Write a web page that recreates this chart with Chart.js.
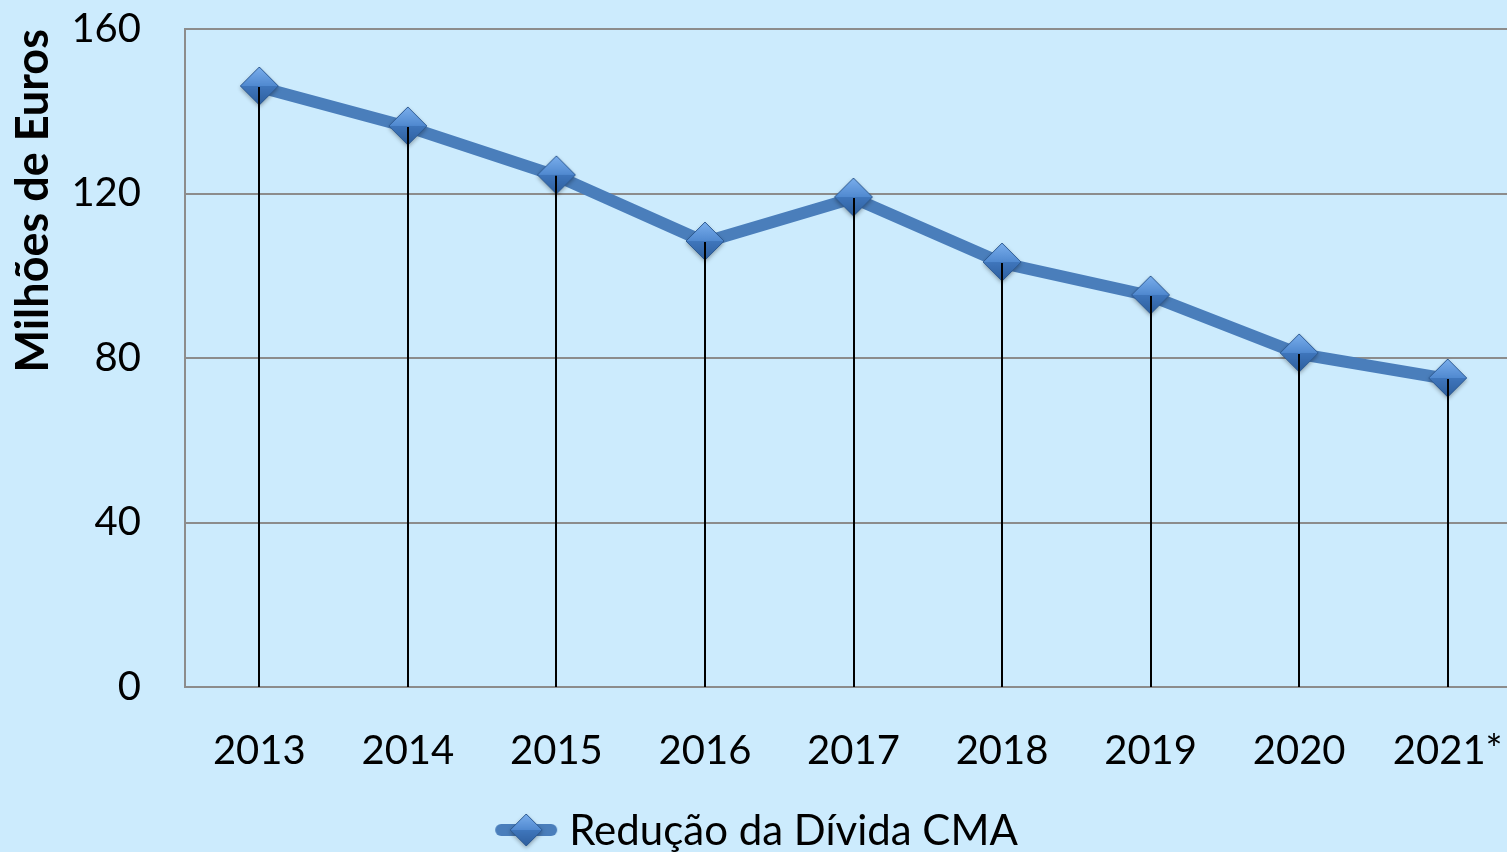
<!DOCTYPE html>
<html>
<head>
<meta charset="utf-8">
<script src="https://cdn.jsdelivr.net/npm/chart.js@4.4.1/dist/chart.umd.min.js"></script>
<style>
html, body { margin: 0; padding: 0; background: #CCEBFD; overflow: hidden; }
#wrap { width: 1530px; height: 880px; }
</style>
</head>
<body>
<div id="wrap"><canvas id="chart" width="1530" height="880"></canvas></div>
<script>
// data
const years = ['2013', '2014', '2015', '2016', '2017', '2018', '2019', '2020', '2021*'];
const debt = [145.9, 136.2, 124.3, 108.2, 118.9, 103.1, 95.1, 81.0, 74.9];
const yTickValues = [0, 40, 80, 120, 160];
const seriesName = 'Redução da Dívida CMA';
const axisTitle = 'Milhões de Euros';

const lineBlue = '#4A7EBB';
const gridGrey = '#8C8C8C';

// bevelled diamond marker, like the office one
function makeDiamond(r) {
    const pad = 5;
    const size = r * 2 + pad * 2;
    const c = document.createElement('canvas');
    c.width = size; c.height = size;
    const g = c.getContext('2d');
    const cx = size / 2, cy = size / 2 - 1;
    g.save();
    g.shadowColor = 'rgba(0,0,0,0.35)';
    g.shadowBlur = 4;
    g.shadowOffsetY = 2;
    g.beginPath();
    g.moveTo(cx, cy - r); g.lineTo(cx + r, cy); g.lineTo(cx, cy + r); g.lineTo(cx - r, cy);
    g.closePath();
    g.fillStyle = '#3F74B6';
    g.fill();
    g.restore();
    // top half
    let grad = g.createLinearGradient(0, cy - r, 0, cy);
    grad.addColorStop(0, '#7AAEEC');
    grad.addColorStop(1, '#5089D0');
    g.beginPath();
    g.moveTo(cx - r, cy); g.lineTo(cx, cy - r); g.lineTo(cx + r, cy); g.closePath();
    g.fillStyle = grad; g.fill();
    // bottom half
    grad = g.createLinearGradient(0, cy, 0, cy + r);
    grad.addColorStop(0, '#3F76BC');
    grad.addColorStop(1, '#2E5F9E');
    g.beginPath();
    g.moveTo(cx - r, cy); g.lineTo(cx, cy + r); g.lineTo(cx + r, cy); g.closePath();
    g.fillStyle = grad; g.fill();
    // outline
    g.beginPath();
    g.moveTo(cx, cy - r); g.lineTo(cx + r, cy); g.lineTo(cx, cy + r); g.lineTo(cx - r, cy);
    g.closePath();
    g.strokeStyle = '#2D5A92'; g.lineWidth = 1; g.stroke();
    return c;
}

// legend symbol: thick line with the diamond on it
function makeLegendSymbol(r, w) {
    const c = document.createElement('canvas');
    const h = r * 2 + 10;
    c.width = w; c.height = h;
    const g = c.getContext('2d');
    g.strokeStyle = lineBlue;
    g.lineWidth = 12;
    g.lineCap = 'round';
    g.beginPath();
    g.moveTo(7, h / 2 - 1); g.lineTo(w - 7, h / 2 - 1);
    g.stroke();
    const d = makeDiamond(r);
    g.drawImage(d, w / 2 - d.width / 2, h / 2 - d.height / 2);
    return c;
}

const marker = makeDiamond(19);
const legendSymbol = makeLegendSymbol(16, 64);

// thin black drop lines from each point down to the axis
const dropLines = {
    id: 'dropLines',
    afterDatasetsDraw(chart) {
        const ctx = chart.ctx;
        const y0 = chart.scales.y.getPixelForValue(0);
        const meta = chart.getDatasetMeta(0);
        ctx.save();
        ctx.strokeStyle = '#000000';
        ctx.lineWidth = 2;
        meta.data.forEach(pt => {
            ctx.beginPath();
            ctx.moveTo(Math.round(pt.x), pt.y);
            ctx.lineTo(Math.round(pt.x), y0);
            ctx.stroke();
        });
        ctx.restore();
    }
};

const bgPlugin = {
    id: 'bg',
    beforeDraw(chart) {
        const ctx = chart.ctx;
        ctx.save();
        ctx.fillStyle = '#CCEBFD';
        ctx.fillRect(0, 0, chart.width, chart.height);
        ctx.restore();
    }
};

const ctx = document.getElementById('chart').getContext('2d');
new Chart(ctx, {
    type: 'line',
    data: {
        labels: years,
        datasets: [{
            label: seriesName,
            data: debt,
            borderColor: lineBlue,
            borderWidth: 12,
            tension: 0,
            pointStyle: marker,
            pointRadius: 19,
            pointHoverRadius: 19,
            fill: false
        }]
    },
    options: {
        responsive: false,
        animation: false,
        devicePixelRatio: 1,
        events: [],
        layout: { autoPadding: false, padding: { left: 0, right: 8, top: 29, bottom: 18 } },
        scales: {
            x: {
                offset: true,
                // invisible tick marks give the gap between axis and labels
                grid: { display: true, drawOnChartArea: false, color: 'transparent', tickColor: 'transparent', tickLength: 40 },
                border: { display: false },
                ticks: {
                    color: '#000000',
                    font: { family: 'Lato', size: 40 },
                    padding: 0,
                    maxRotation: 0,
                    autoSkip: false
                },
                afterFit(scale) { scale.height = 113; }
            },
            y: {
                min: 0,
                max: 160,
                afterBuildTicks(scale) {
                    scale.ticks = yTickValues.map(v => ({ value: v }));
                },
                grid: { color: gridGrey, lineWidth: 2, drawTicks: true, tickLength: 44, tickColor: 'transparent' },
                border: { display: true, color: gridGrey, width: 2 },
                ticks: {
                    color: '#000000',
                    font: { family: 'Lato', size: 40 },
                    padding: 0
                },
                title: {
                    display: true,
                    text: axisTitle,
                    align: 'end',
                    color: '#000000',
                    font: { family: 'Lato', size: 45, weight: 'bold' },
                    padding: { top: 6, bottom: 0 }
                },
                afterFit(scale) { scale.width = 185; }
            }
        },
        plugins: {
            legend: {
                position: 'bottom',
                labels: {
                    color: '#000000',
                    font: { family: 'Lato', size: 42 },
                    usePointStyle: true,
                    pointStyleWidth: 44,
                    padding: 10,
                    generateLabels() {
                        return [{
                            text: seriesName,
                            pointStyle: legendSymbol,
                            fillStyle: lineBlue,
                            strokeStyle: lineBlue,
                            lineWidth: 0,
                            datasetIndex: 0
                        }];
                    }
                }
            },
            tooltip: { enabled: false }
        }
    },
    plugins: [bgPlugin, dropLines]
});
</script>
</body>
</html>
